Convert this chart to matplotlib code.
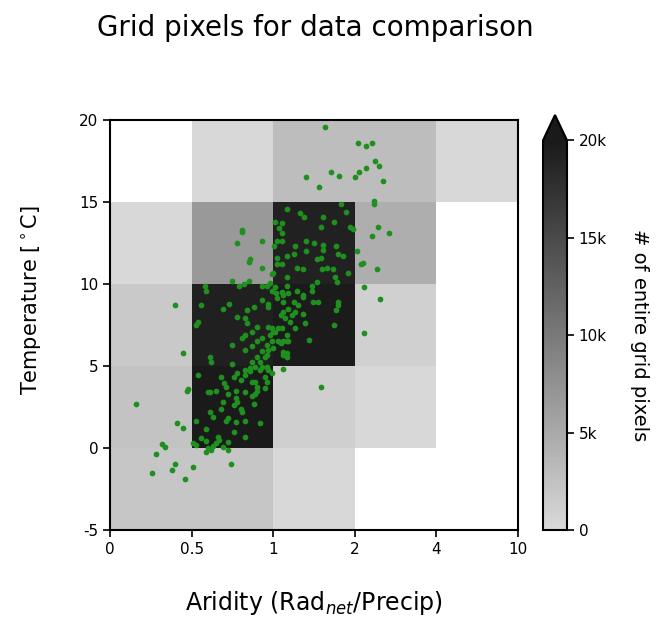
import numpy as np
import matplotlib
matplotlib.use('Agg')
import matplotlib.pyplot as plt
from matplotlib.colors import LinearSegmentedColormap

# bin edges
arid_edges = [0, 0.5, 1, 2, 4, 10]
temp_edges = [-5, 0, 5, 10, 15, 20]
arid_labels = ['0', '0.5', '1', '2', '4', '10']
temp_labels = ['-5', '0', '5', '10', '15', '20']

# number of grid pixels per bin (rows: temperature bins from -5 upward, cols: aridity bins)
nan = np.nan
counts = [
    [2100, 2100, 200, nan, nan],
    [2300, 24000, 1150, 200, nan],
    [1780, 19370, 19800, 940, nan],
    [200, 6700, 19150, 4600, nan],
    [nan, 200, 3040, 3040, 200],
]

# sites (aridity, temperature)
sites = [
    (1.64, 19.6), (2.07, 18.6), (2.27, 18.4), (2.42, 18.6), (2.49, 17.5), (2.59, 17.2),
    (2.27, 17.1), (2.10, 16.8), (2.00, 16.5), (1.71, 16.8), (1.81, 16.6), (1.40, 16.5),
    (1.56, 15.9), (2.69, 16.3), (2.47, 15.05), (2.47, 14.9), (1.83, 14.9), (1.89, 14.4),
    (1.17, 14.6), (1.33, 14.3), (1.38, 14.1), (1.61, 14.1), (1.75, 13.8), (1.02, 13.8),
    (1.11, 13.7),
    (1.58, 13.5), (1.07, 13.4), (1.11, 13.1), (1.94, 13.5), (1.98, 13.35), (2.56, 13.5),
    (2.42, 12.9), (2.83, 13.1), (1.05, 12.6), (1.11, 12.6), (1.40, 12.6), (1.50, 12.5),
    (1.27, 12.3), (1.61, 12.4), (1.61, 12.1), (1.58, 11.6), (1.54, 11.5), (1.77, 12.3),
    (1.01, 12.3), (1.40, 12.0), (1.25, 11.8), (1.17, 11.7), (1.80, 11.8), (1.86, 11.7),
    (2.05, 12.0), (1.05, 11.6), (2.20, 11.3), (2.15, 11.2), (1.05, 11.2), (1.11, 11.2),
    (1.29, 11.0), (1.37, 10.9), (1.60, 10.9), (1.66, 11.0), (1.73, 10.9), (2.54, 10.9),
    (1.92, 10.7), (1.00, 10.7), (1.17, 10.4), (1.76, 10.4), (1.78, 10.1), (1.54, 10.1),
    (1.48, 9.9), (1.48, 9.6), (0.98, 10.05), (1.02, 9.8), (1.17, 9.9), (1.29, 9.6),
    (2.22, 9.8), (2.62, 9.1), (1.37, 9.3), (1.11, 9.5), (1.12, 9.3), (1.80, 8.9),
    (1.49, 8.9), (1.55, 8.9),
    (0.81, 13.3), (0.81, 13.15), (0.78, 12.5), (0.93, 12.6), (0.86, 11.5), (0.85, 11.35),
    (0.93, 11.0), (0.99, 10.6), (0.75, 10.2), (0.79, 9.9), (0.82, 10.0), (0.85, 10.2),
    (0.58, 9.9), (0.59, 9.6), (0.93, 9.9), (0.96, 9.9), (0.99, 9.6), (0.73, 8.8),
    (0.56, 8.7), (0.97, 8.8), (0.40, 8.7),
    (0.69, 8.5), (0.93, 9.0), (0.84, 8.4), (0.88, 8.6), (0.78, 8.0), (0.83, 7.9),
    (0.54, 7.7), (0.53, 7.5), (1.09, 8.1), (1.12, 8.3), (0.90, 7.4), (0.87, 7.1),
    (0.81, 6.7), (0.83, 6.9), (0.97, 7.4), (0.99, 7.3), (1.02, 7.1), (0.98, 6.9),
    (0.93, 6.7), (0.90, 6.5), (0.87, 6.2), (0.96, 6.3), (1.09, 6.4), (1.17, 6.5),
    (0.75, 6.3), (0.83, 6.0), (0.93, 5.9), (0.97, 6.0), (0.95, 5.55), (0.90, 5.55),
    (0.87, 5.25), (0.92, 5.25), (0.89, 4.95), (0.93, 4.95), (1.12, 5.7), (1.17, 5.8),
    (0.61, 5.55), (0.62, 5.25), (0.75, 5.1), (0.45, 5.8), (0.78, 4.6), (0.83, 4.75),
    (0.86, 4.7), (0.97, 4.75), (0.99, 4.6), (1.12, 4.8), (0.76, 4.3), (0.80, 4.15),
    (0.83, 4.45), (0.54, 4.45), (0.68, 4.3), (0.89, 4.0), (0.95, 4.3), (0.47, 3.5),
    (0.61, 3.4), (0.65, 3.5), (0.71, 3.7), (0.77, 3.5), (0.83, 3.4), (0.90, 3.5),
    (0.95, 3.65),
    (1.05, 9.15), (1.12, 8.9), (1.18, 8.5), (1.23, 8.1), (1.15, 7.9), (1.21, 7.7),
    (1.27, 7.3), (1.06, 7.3), (1.00, 7.1), (1.17, 6.9), (1.12, 6.5), (1.12, 5.85),
    (1.17, 5.55), (1.00, 6.1), (1.11, 7.3), (1.31, 8.7), (1.25, 8.9), (1.37, 9.2),
    (1.80, 8.7), (1.77, 8.4), (1.39, 7.6), (1.75, 7.5), (1.44, 6.6), (1.18, 6.5),
    (2.22, 7.0), (1.58, 3.7),
    (0.16, 2.7), (0.48, 3.6), (0.41, 1.5), (0.45, 1.2), (0.32, 0.25), (0.34, 0.05),
    (0.28, -0.35), (0.40, -0.95), (0.38, -1.35), (0.51, -1.15), (0.26, -1.5), (0.46, -1.9),
    (0.51, 0.3), (0.53, 0.2), (0.53, 1.65), (0.59, 1.15), (0.56, 0.6), (0.59, 0.4),
    (0.61, 2.2), (0.63, 1.9), (0.60, 3.4), (0.70, 3.95), (0.72, 3.3), (0.69, 2.8),
    (0.68, 2.4), (0.77, 3.05), (0.76, 2.6), (0.78, 2.8), (0.80, 2.4), (0.81, 2.2),
    (0.72, 1.85), (0.71, 1.65), (0.77, 1.6), (0.83, 1.65), (0.76, 1.0), (0.83, 0.7),
    (0.66, 0.7), (0.67, 0.5), (0.65, 0.3), (0.63, 0.1), (0.60, 0.0), (0.62, -0.1),
    (0.69, 0.05), (0.72, -0.1), (0.72, 0.35), (0.59, -0.25), (0.74, -1.0), (0.87, 4.0),
    (0.90, 3.7), (0.89, 3.3), (0.87, 3.2), (0.88, 2.7), (0.92, 1.5), (0.96, 4.0),
    (1.03, 9.45), (1.18, 9.45), (0.97, 8.6), (1.27, 8.3), (1.37, 8.2), (0.84, 7.6),
    (0.99, 6.5), (1.06, 6.5), (0.96, 5.7), (0.86, 4.9), (0.92, 4.75), (0.96, 4.95),
]

site_arid = np.array([s[0] for s in sites])
site_temp = np.array([s[1] for s in sites])

# aridity axis is drawn with equal-width bins
xpos = np.interp(site_arid, arid_edges, np.arange(len(arid_edges)))

cmap = LinearSegmentedColormap.from_list('grey_trunc', ['#d9d9d9', '#1a1a1a'])
cmap.set_over('#1a1a1a')

fig = plt.figure(figsize=(6.7, 6.22), dpi=100)
ax = fig.add_axes([110/670, 1 - 530/622, 408/670, 410/622])
cax = fig.add_axes([543/670, 1 - 530/622, 24/670, 415/622])

grid = np.ma.masked_invalid(np.array(counts, dtype=float))
mesh = ax.pcolormesh(np.arange(len(arid_edges)), temp_edges, grid,
                     cmap=cmap, vmin=0, vmax=20000)
ax.scatter(xpos, site_temp, s=17, color='#1f8f1f', linewidths=0, zorder=3)

ax.set_xlim(0, 5)
ax.set_ylim(-5, 20)
ax.set_xticks(np.arange(len(arid_edges)))
ax.set_xticklabels(arid_labels)
ax.set_yticks(temp_edges)
ax.set_yticklabels(temp_labels)
ax.tick_params(labelsize=11, length=5, width=1.2, direction='out')
for sp in ax.spines.values():
    sp.set_linewidth(1.5)
ax.set_xlabel('Aridity (Rad$_{net}$/Precip)', fontsize=17)
ax.xaxis.set_label_coords(0.5, -0.145)
ax.set_ylabel(r'Temperature [$^\circ$C]', fontsize=15)
ax.yaxis.set_label_coords(-0.165, 0.56)

cb = fig.colorbar(mesh, cax=cax, extend='max', extendfrac=0.065)
cb.set_ticks([0, 5000, 10000, 15000, 20000])
cb.set_ticklabels(['0', '5k', '10k', '15k', '20k'])
cb.ax.tick_params(labelsize=11, length=5, width=1.2)
cb.outline.set_linewidth(1.5)
cb.set_label('# of entire grid pixels', rotation=270, fontsize=14, labelpad=30)

fig.text(315/670, 1 - 28/622, 'Grid pixels for data comparison',
         ha='center', va='center', fontsize=20)

fig.savefig('out.png', dpi=100)
